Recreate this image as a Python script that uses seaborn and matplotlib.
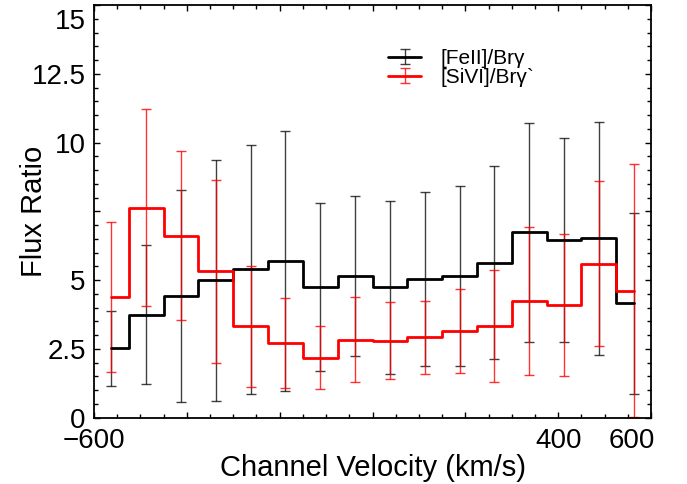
import matplotlib
matplotlib.use("Agg")
import matplotlib.pyplot as plt
import numpy as np
import pandas as pd
import seaborn as sns
from matplotlib.ticker import MultipleLocator, FixedLocator
from matplotlib.container import ErrorbarContainer
from matplotlib.legend_handler import HandlerErrorbar, HandlerTuple

# ---- data ----
velocity = [-562.5, -487.5, -412.5, -337.5, -262.5, -187.5, -112.5, -37.5,
            37.5, 112.5, 187.5, 262.5, 337.5, 412.5, 487.5, 562.5]
feii_ratio = [2.52, 3.75, 4.43, 5.00, 5.40, 5.69, 4.75, 5.15,
              4.74, 5.04, 5.16, 5.64, 6.74, 6.46, 6.52, 4.16]
feii_err = [1.37, 2.52, 3.86, 4.38, 4.52, 4.73, 3.05, 2.92,
            3.14, 3.15, 3.27, 3.52, 3.97, 3.71, 4.25, 3.28]
sivi_ratio = [4.40, 7.64, 6.62, 5.32, 3.32, 2.72, 2.18, 2.84,
              2.80, 2.92, 3.15, 3.33, 4.23, 4.09, 5.59, 4.61]
sivi_err = [2.73, 3.58, 3.07, 3.33, 2.20, 1.65, 1.15, 1.54,
            1.39, 1.32, 1.52, 2.04, 2.69, 2.58, 3.00, 4.60]

x_ticks = [-600, -400, -200, 0, 200, 400, 600]
x_ticklabels = ["\u2212600", "", "", "", "", "400", ""]
y_ticks = [0, 2.5, 5, 7.5, 10, 12.5, 15]
y_ticklabels = ["0", "2.5", "5", "", "10", "12.5", ""]
label_feii = "[FeII]/Br\u03b3"
label_sivi = "[SiVI]/Br\u03b3`"

# ---- style ----
sns.set_style("ticks")
plt.rcParams["font.family"] = ["Liberation Sans", "DejaVu Sans"]
plt.rcParams["text.color"] = "black"
plt.rcParams["axes.labelcolor"] = "black"
plt.rcParams["xtick.color"] = "black"
plt.rcParams["ytick.color"] = "black"

fig = plt.figure(figsize=(6.87, 4.84), dpi=100)
ax = fig.add_axes([94 / 687, 1 - 417.7 / 484, 557 / 687, 412.5 / 484])

df = pd.DataFrame({"velocity": velocity, "feii": feii_ratio, "sivi": sivi_ratio})

eb_fe = ax.errorbar(velocity, feii_ratio, yerr=feii_err, fmt="none", ecolor="black",
                    elinewidth=1.0, capsize=3.5, capthick=1.0, alpha=0.75, zorder=2)
eb_si = ax.errorbar(velocity, sivi_ratio, yerr=sivi_err, fmt="none", ecolor="#ff0000",
                    elinewidth=1.0, capsize=3.5, capthick=1.0, alpha=0.8, zorder=2)

sns.lineplot(data=df, x="velocity", y="feii", color="black", lw=2.0,
             drawstyle="steps-mid", ax=ax, zorder=3)
line_fe = ax.lines[-1]
sns.lineplot(data=df, x="velocity", y="sivi", color="#ff0000", lw=2.0,
             drawstyle="steps-mid", ax=ax, zorder=3)
line_si = ax.lines[-1]

ax.set_xlim(-600, 600)
ax.set_ylim(0, 15)

ax.xaxis.set_major_locator(FixedLocator(x_ticks))
ax.set_xticklabels(x_ticklabels)
ax.yaxis.set_major_locator(FixedLocator(y_ticks))
ax.set_yticklabels(y_ticklabels)
ax.xaxis.set_minor_locator(MultipleLocator(50))
ax.yaxis.set_minor_locator(MultipleLocator(0.5))

ax.tick_params(which="both", direction="in", top=True, right=True,
               color="black", labelcolor="black")
ax.tick_params(which="major", length=4.3, width=1.0, labelsize=20)
ax.tick_params(axis="x", which="major", pad=7.5)
ax.tick_params(axis="y", which="major", pad=6.0)
ax.tick_params(which="minor", length=2.6, width=1.0)
for sp in ax.spines.values():
    sp.set_linewidth(1.3)
    sp.set_color("black")

# shifted end labels (as in the reference)
ax.annotate("600", xy=(600, 0), xycoords=("data", "axes fraction"),
            xytext=(-14, -7.5), textcoords="offset points", ha="center", va="top",
            fontsize=20, color="black")
ax.annotate("15", xy=(0, 15), xycoords=("axes fraction", "data"),
            xytext=(-6.0, -9.6), textcoords="offset points", ha="right",
            va="center_baseline", fontsize=20, color="black")

ax.set_xlabel("Channel Velocity (km/s)", fontsize=21, color="black")
ax.set_ylabel("Flux Ratio", fontsize=21, color="black")
ax.xaxis.set_label_coords(0.5, -0.087)
ax.yaxis.set_label_coords(-0.083, 0.5)

leg = ax.legend([(line_fe, eb_fe), (line_si, eb_si)], [label_feii, label_sivi],
                handler_map={ErrorbarContainer: HandlerErrorbar(xerr_size=0.5, yerr_size=0.37),
                             tuple: HandlerTuple(ndivide=1)},
                loc="upper left", bbox_to_anchor=(0.528, 0.894), frameon=False,
                fontsize=15, borderpad=0, borderaxespad=0, labelspacing=0.0,
                handlelength=1.6, handletextpad=0.9)
for t in leg.get_texts():
    t.set_color("black")

fig.savefig("out.png", dpi=100)
